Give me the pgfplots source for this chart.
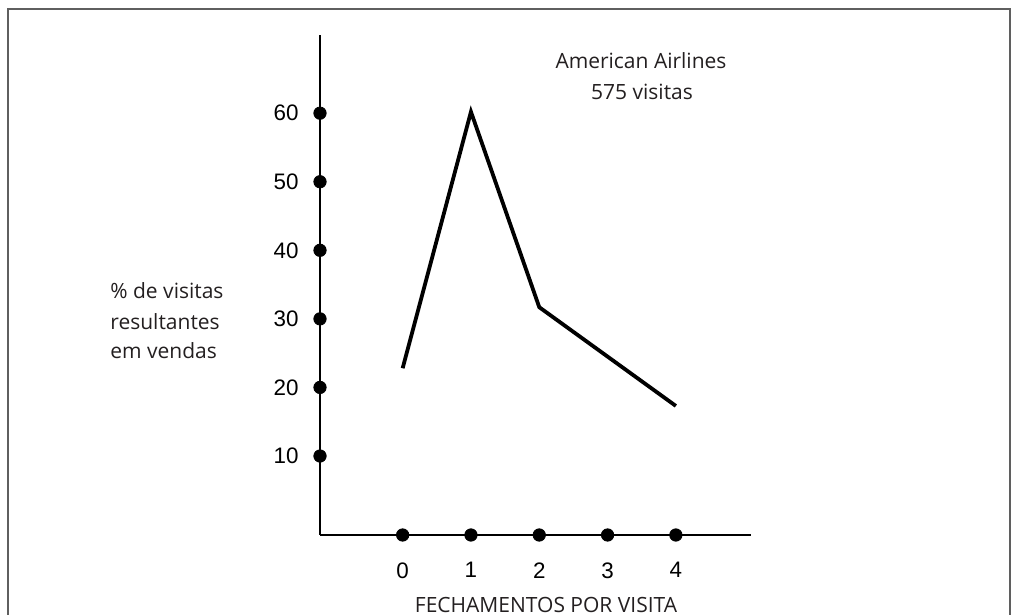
\documentclass[border=0pt]{standalone}
\usepackage{pgfplots}
\pgfplotsset{compat=1.18}
\usepackage{fontspec}
\setmainfont{Open Sans}
\newfontfamily\tickfont{Liberation Sans}
\definecolor{ink}{RGB}{35,31,32}
\definecolor{framegray}{RGB}{95,95,95}

\begin{document}
\begin{tikzpicture}
\useasboundingbox (0,0) rectangle (505.5pt,307.5pt);
% outer frame, open at the bottom
\begin{scope}
  \clip (0,0) rectangle (505.5pt,307.5pt);
  \draw[framegray, line width=1pt] (4pt,-5pt) -- (4pt,303pt) -- (505pt,303pt) -- (505pt,-5pt);
\end{scope}

\begin{axis}[
  at={(160pt,40pt)}, anchor=south west,
  scale only axis, width=215.5pt, height=250pt,
  xmin=-1.21, xmax=5.10, ymin=-1.52, ymax=71.4,
  axis x line=bottom, axis y line=left,
  axis line style={-, line width=1pt, black},
  xtick={0,1,2,3,4}, ytick={10,20,30,40,50,60},
  major tick length=0pt, tick style={draw=none},
  /pgf/number format/assume math mode=true,
  ticklabel style={font=\tickfont\fontsize{11.2}{13}\selectfont, text=black, inner sep=0pt},
  xticklabel style={anchor=north, yshift=-13.5pt},
  yticklabel style={anchor=east, xshift=-10.5pt},
  clip=false,
]
% dots standing for the ticks
\addplot[only marks, mark=*, mark size=3.1pt, black] coordinates {
  (-1.21,10) (-1.21,20) (-1.21,30) (-1.21,40) (-1.21,50) (-1.21,60)
  (0,-1.52) (1,-1.52) (2,-1.52) (3,-1.52) (4,-1.52)
};
% American Airlines
\addplot[black, line width=1.9pt, line join=miter] coordinates {
  (0,22.8) (1,60.2) (2,31.7) (4,17.3)
};
\end{axis}

\begin{scope}[every node/.style={text=ink, font=\fontsize{10.5}{15}\selectfont, inner sep=0pt}]
  \node[anchor=base] at (320.5pt,273pt) {American Airlines};
  \node[anchor=base] at (321pt,257.5pt) {575 visitas};
  \node[anchor=base west] at (55pt,158pt) {\% de visitas};
  \node[anchor=base west] at (55pt,142.5pt) {resultantes};
  \node[anchor=base west] at (55pt,128pt) {em vendas};
  \node[anchor=base] at (273pt,1.2pt) {FECHAMENTOS POR VISITA};
\end{scope}
\end{tikzpicture}
\end{document}
